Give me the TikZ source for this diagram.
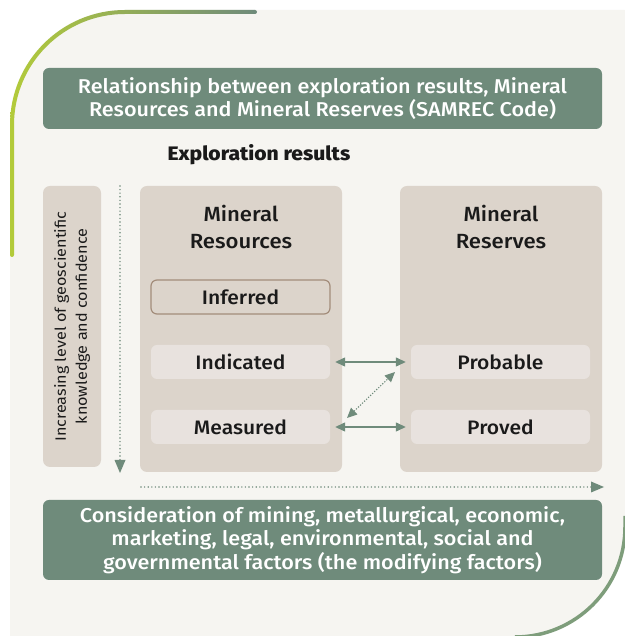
\documentclass[tikz,border=0pt]{standalone}
\usepackage{fontspec}
\setmainfont{Fira Sans}[FakeStretch=1.08]
\newfontfamily\fmed{Fira Sans Medium}[FakeStretch=1.08]
\usetikzlibrary{arrows.meta}
\definecolor{panelbg}{HTML}{F6F5F1}
\definecolor{sage}{HTML}{6F8B7B}
\definecolor{tan}{HTML}{DCD4CB}
\definecolor{lightbox}{HTML}{E8E2DE}
\definecolor{infb}{HTML}{A38D7B}
\definecolor{lime}{HTML}{B3CB3A}
\definecolor{midsage}{HTML}{A4B98E}
\definecolor{arcgreen}{HTML}{7E9D7B}
\definecolor{ink}{HTML}{1A1A1A}
\tikzset{
  greenbox/.style={fill=sage, rounded corners=6pt, text=white, align=center, font=\fmed\fontsize{20}{23.5}\selectfont, inner sep=0pt},
  tanbox/.style={fill=tan, rounded corners=7pt, inner sep=0pt},
  itembox/.style={fill=lightbox, rounded corners=6pt, minimum width=179pt, minimum height=34pt, inner sep=0pt, text=ink, font=\fmed\fontsize{19.5}{22}\selectfont},
  headtext/.style={align=center, text=ink, font=\fmed\fontsize{20.5}{27}\selectfont},
  dotline/.style={draw=sage, line width=1.6pt, line cap=round, dash pattern=on 0pt off 3.6pt},
  dbltip/.style={{Triangle[length=10pt,width=9pt]}-{Triangle[length=10pt,width=9pt]}},
}
\begin{document}
\begin{tikzpicture}[x=1pt,y=1pt]
\useasboundingbox (0,0) rectangle (624,636);
\fill[white] (0,0) rectangle (624,636);
% panel
\fill[panelbg] (10,-1) -- (10,511) arc[start angle=180,end angle=90,radius=115pt] -- (625,626) -- (625,109) arc[start angle=0,end angle=-90,radius=110pt] -- cycle;
% top-left gradient border
\begin{scope}
\clip (10,381) -- (10,511) arc[start angle=180,end angle=90,radius=115pt] -- (255,626) -- (255,622) -- (125,622) arc[start angle=90,end angle=180,radius=111pt] -- (14,381) -- cycle;
\shade[left color=lime, middle color=midsage, right color=sage] (10,370) rectangle (257,630);
\end{scope}
\fill[lime] (12,381) circle (2pt);
\fill[sage] (255,624) circle (2pt);
% bottom-right border
\draw[arcgreen, line width=3.5pt] (625,120) -- (625,109) arc[start angle=0,end angle=-90,radius=110pt];
% title
\node[greenbox, minimum width=559pt, minimum height=61pt] (title) at (322.5,537.5) {Relationship between exploration results, Mineral\\Resources and Mineral Reserves (SAMREC Code)};
\node[font=\fmed\bfseries\fontsize{19.5}{22}\selectfont, text=ink] (expl) at (259,481) {Exploration results};
% left box
\node[tanbox, minimum width=58pt, minimum height=281pt] (side) at (72,309.5) {};
\node[rotate=90, align=center, text=ink, font=\fontsize{15}{21}\selectfont] (sidetext) at (side.center) {Increasing level of geoscientific\\knowledge and confidence};
% vertical arrow
\coordinate (vtop) at (120,450);
\coordinate (vbot) at (120,163);
\draw[dotline] (vtop) -- (120,172);
\fill[sage] (114.5,176) -- (125.5,176) -- (vbot) -- cycle;
% resources box
\node[tanbox, minimum width=202pt, minimum height=286pt] (res) at (241,307) {};
\node[headtext] (restitle) at (241,409) {Mineral\\Resources};
\node[itembox, fill=tan, draw=infb, line width=1.2pt] (inf) at (240.5,339) {Inferred};
\node[itembox] (ind) at (240.5,274) {Indicated};
\node[itembox] (mea) at (240.5,209) {Measured};
% reserves box
\node[tanbox, minimum width=202pt, minimum height=286pt] (rsv) at (501,307) {};
\node[headtext] (rsvtitle) at (501,409) {Mineral\\Reserves};
\node[itembox] (prob) at (500.5,274) {Probable};
\node[itembox] (prov) at (500.5,209) {Proved};
% connectors
\draw[sage, line width=1.3pt, dbltip, shorten <=5pt, shorten >=5pt] (ind.east) -- (prob.west);
\draw[sage, line width=1.3pt, dbltip, shorten <=5pt, shorten >=5pt] (mea.east) -- (prov.west);
\coordinate (dA) at (347,218);
\coordinate (dB) at (395,264);
\draw[sage, line width=1.1pt, dash pattern=on 1.2pt off 1.6pt, dbltip] (dA) -- (dB);
% horizontal dotted arrow
\coordinate (hl) at (141,149);
\coordinate (hr) at (604,149);
\draw[dotline] (hl) -- (592,149);
\fill[sage] (591,154.5) -- (591,143.5) -- (hr) -- cycle;
% bottom box
\node[greenbox, minimum width=559pt, minimum height=80pt] (mod) at (322.5,96) {Consideration of mining, metallurgical, economic,\\marketing, legal, environmental, social and\\governmental factors (the modifying factors)};
\end{tikzpicture}
\end{document}
